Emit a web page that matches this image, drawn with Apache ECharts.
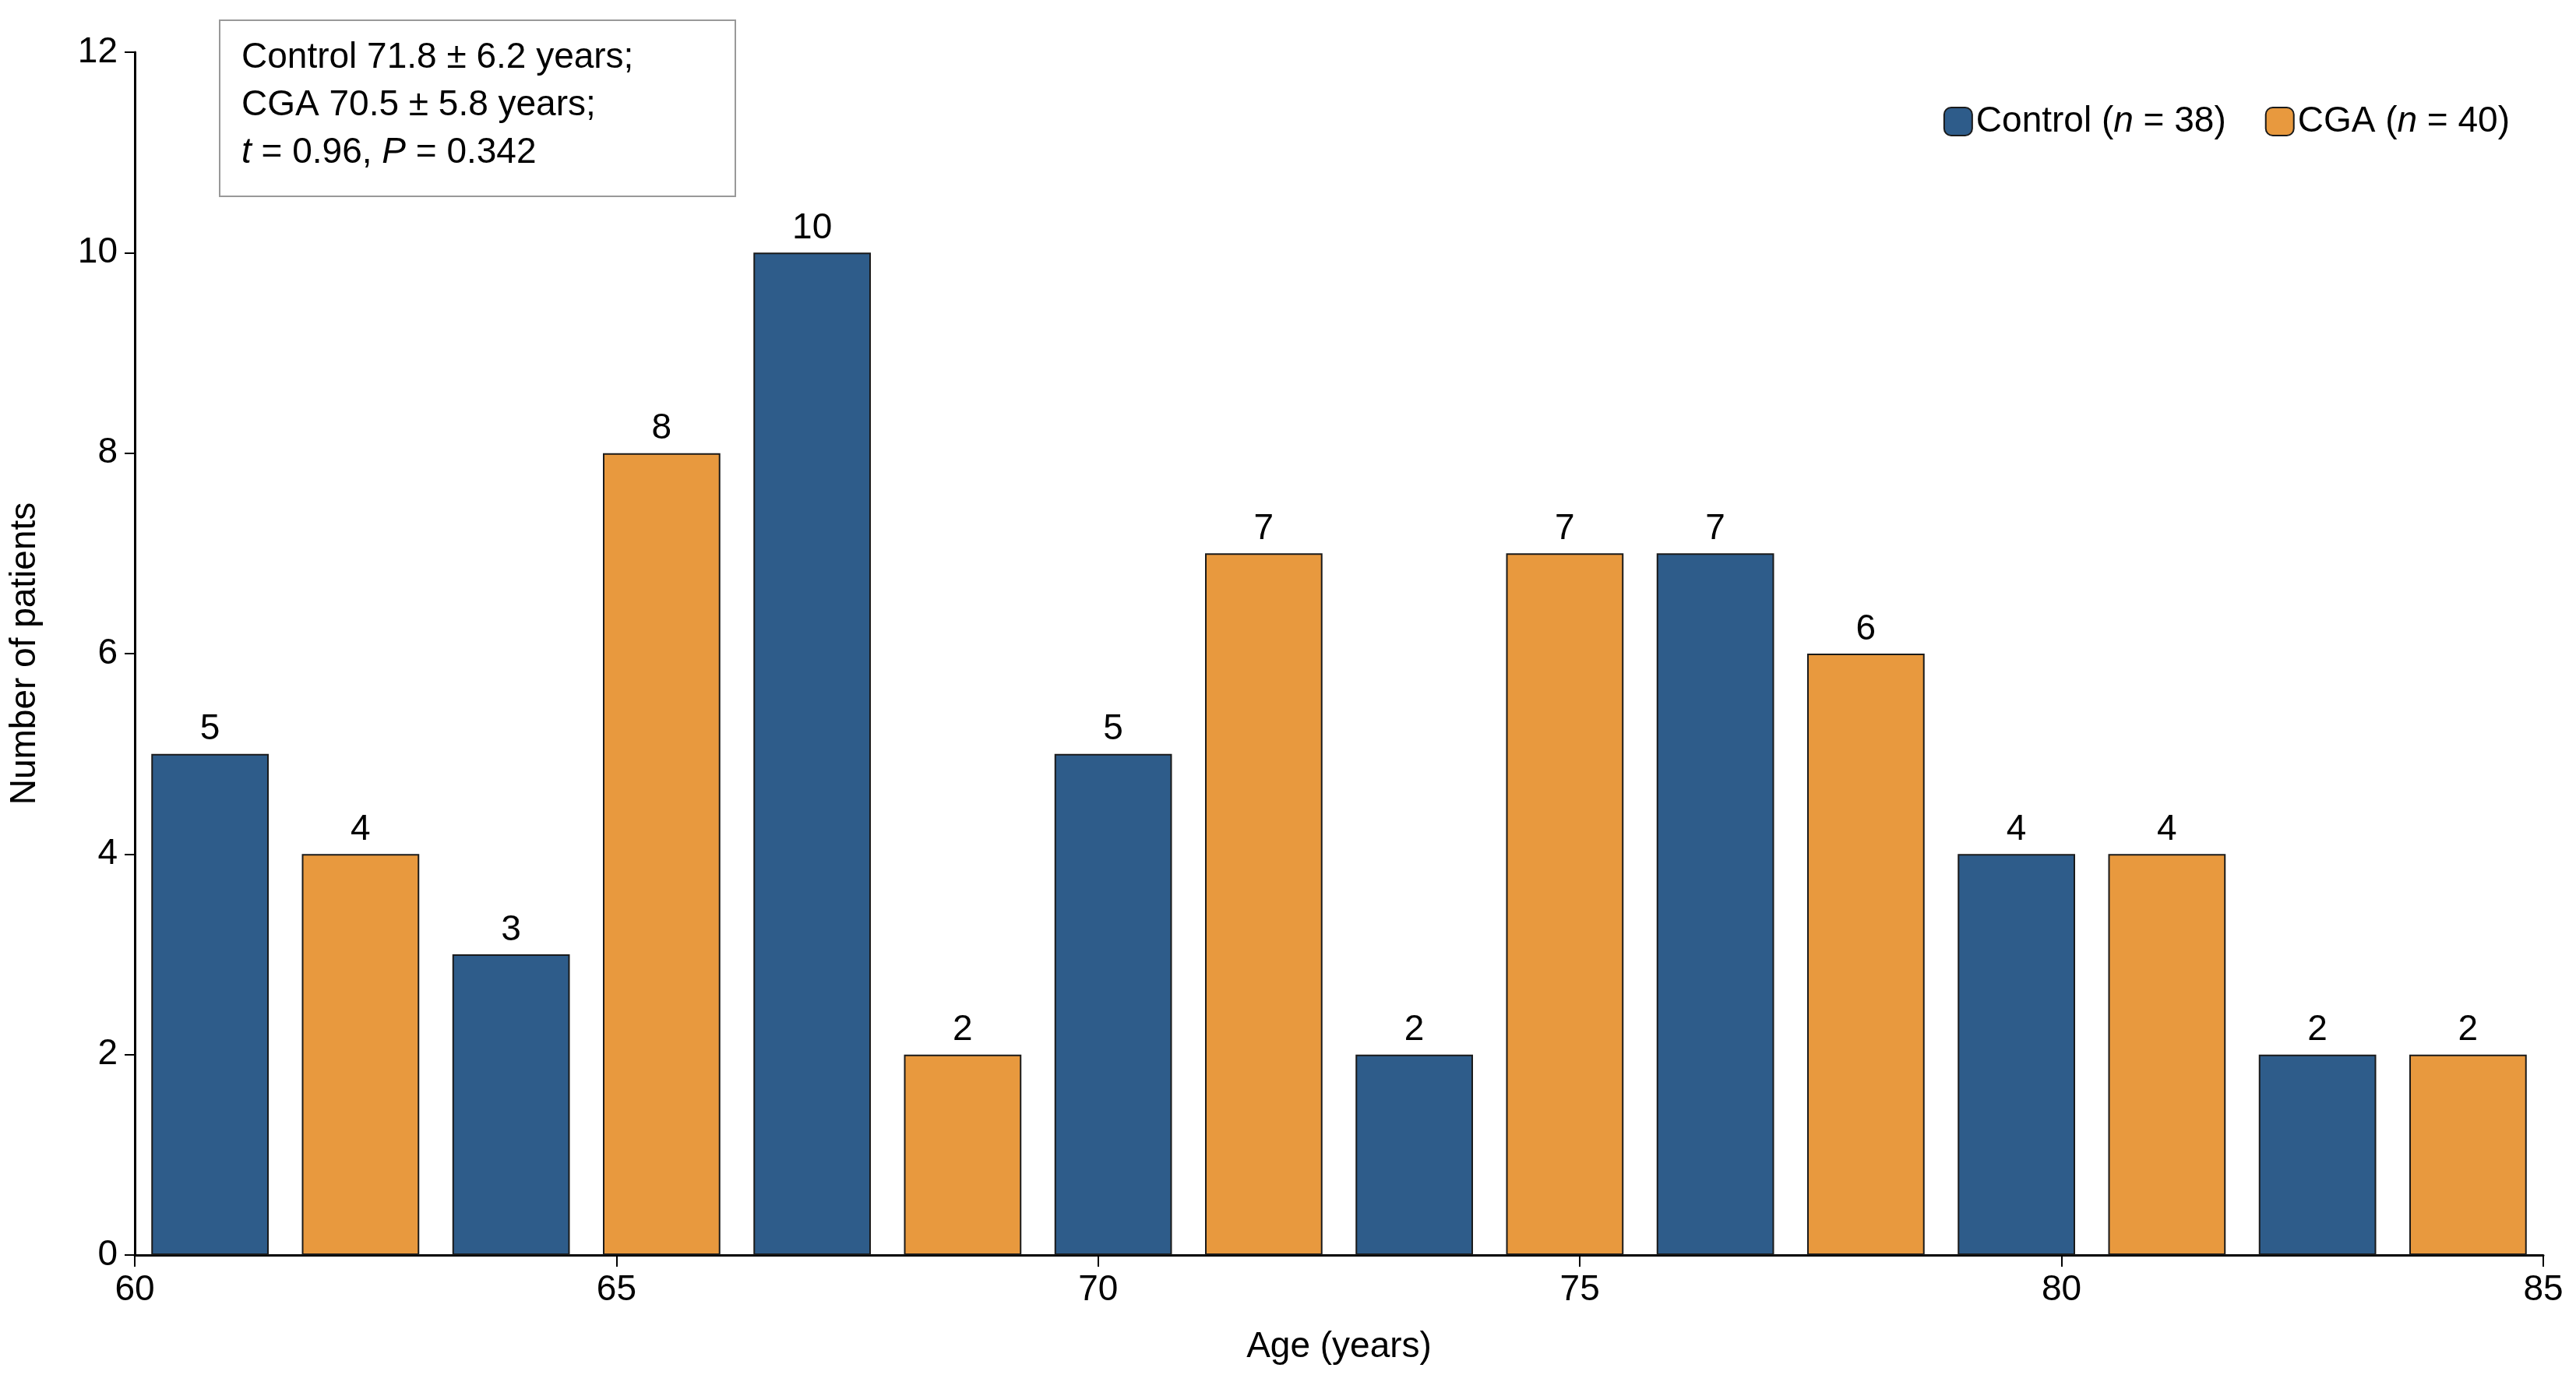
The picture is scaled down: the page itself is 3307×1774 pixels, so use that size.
<!DOCTYPE html>
<html>
<head>
<meta charset="utf-8">
<script src="https://cdn.jsdelivr.net/npm/echarts@6/dist/echarts.min.js"></script>
<style>html,body{margin:0;padding:0;background:#fff}#chart{width:3307px;height:1774px}</style>
</head>
<body>
<div id="chart"></div>
<script>
// 16 bins, alternating groups
var bins = ['b1','b2','b3','b4','b5','b6','b7','b8','b9','b10','b11','b12','b13','b14','b15','b16'];
var controlData = [5, null, 3, null, 10, null, 5, null, 2, null, 7, null, 4, null, 2, null];
var cgaData = [null, 4, null, 8, null, 2, null, 7, null, 7, null, 6, null, 4, null, 2];
var yTicks = [0, 2, 4, 6, 8, 10, 12];
var annotation = ['Control 71.8 ± 6.2 years;', 'CGA 70.5 ± 5.8 years;', '{i|t} = 0.96, {i|P} = 0.342'];

var font = 'Liberation Sans';
var chart = echarts.init(document.getElementById('chart'));

var option = {
    animation: false,
    textStyle: { fontFamily: font },
    grid: { left: 173, right: 42, top: 67, bottom: 163 },
    legend: {
        right: 80,
        top: 128,
        itemWidth: 36,
        itemHeight: 36,
        itemGap: 50,
        textStyle: {
            fontSize: 46, color: '#000',
            rich: { i: { fontStyle: 'italic', fontSize: 46 } }
        },
        formatter: function (name) {
            return name == 'Control' ? 'Control ({i|n} = 38)' : 'CGA ({i|n} = 40)';
        },
        data: ['Control', 'CGA']
    },
    xAxis: [
        {
            type: 'category',
            data: bins,
            show: false
        },
        {
            type: 'value',
            min: 60, max: 85, interval: 5,
            position: 'bottom',
            name: 'Age (years)',
            nameLocation: 'middle',
            nameGap: 95,
            nameTextStyle: { fontSize: 46, color: '#000' },
            axisLine: { lineStyle: { color: '#000', width: 3 } },
            axisTick: { length: 15, lineStyle: { color: '#000', width: 2 } },
            axisLabel: { fontSize: 46, color: '#000', margin: 22 },
            splitLine: { show: false }
        }
    ],
    yAxis: {
        type: 'value',
        min: 0, max: 12, interval: 2,
        name: 'Number of patients',
        nameLocation: 'middle',
        nameGap: 118,
        nameTextStyle: { fontSize: 46, color: '#000' },
        axisLine: { show: true, lineStyle: { color: '#000', width: 3 } },
        axisTick: { show: true, length: 13, lineStyle: { color: '#000', width: 2 } },
        axisLabel: { fontSize: 46, color: '#000', margin: 22 },
        splitLine: { show: false }
    },
    series: [
        {
            name: 'Control',
            type: 'bar',
            xAxisIndex: 0,
            data: controlData,
            barGap: '-100%',
            barCategoryGap: '22%',
            itemStyle: { color: '#2E5C8A', borderColor: '#1a1a1a', borderWidth: 2 },
            label: { show: true, position: 'top', fontSize: 46, color: '#000', distance: 8 }
        },
        {
            name: 'CGA',
            type: 'bar',
            xAxisIndex: 0,
            data: cgaData,
            barGap: '-100%',
            barCategoryGap: '22%',
            itemStyle: { color: '#E8993E', borderColor: '#1a1a1a', borderWidth: 2 },
            label: { show: true, position: 'top', fontSize: 46, color: '#000', distance: 8 }
        }
    ],
    graphic: [
        {
            type: 'rect',
            left: 281, top: 25,
            shape: { width: 662, height: 226 },
            style: { fill: '#fff', stroke: '#999', lineWidth: 2 }
        },
        {
            type: 'text',
            left: 310, top: 44,
            style: {
                text: annotation.join('\n'),
                fontSize: 46,
                lineHeight: 61,
                fontFamily: font,
                fill: '#000',
                rich: { i: { fontStyle: 'italic', fontSize: 46, fontFamily: font } }
            }
        }
    ]
};
chart.setOption(option);
</script>
</body>
</html>
